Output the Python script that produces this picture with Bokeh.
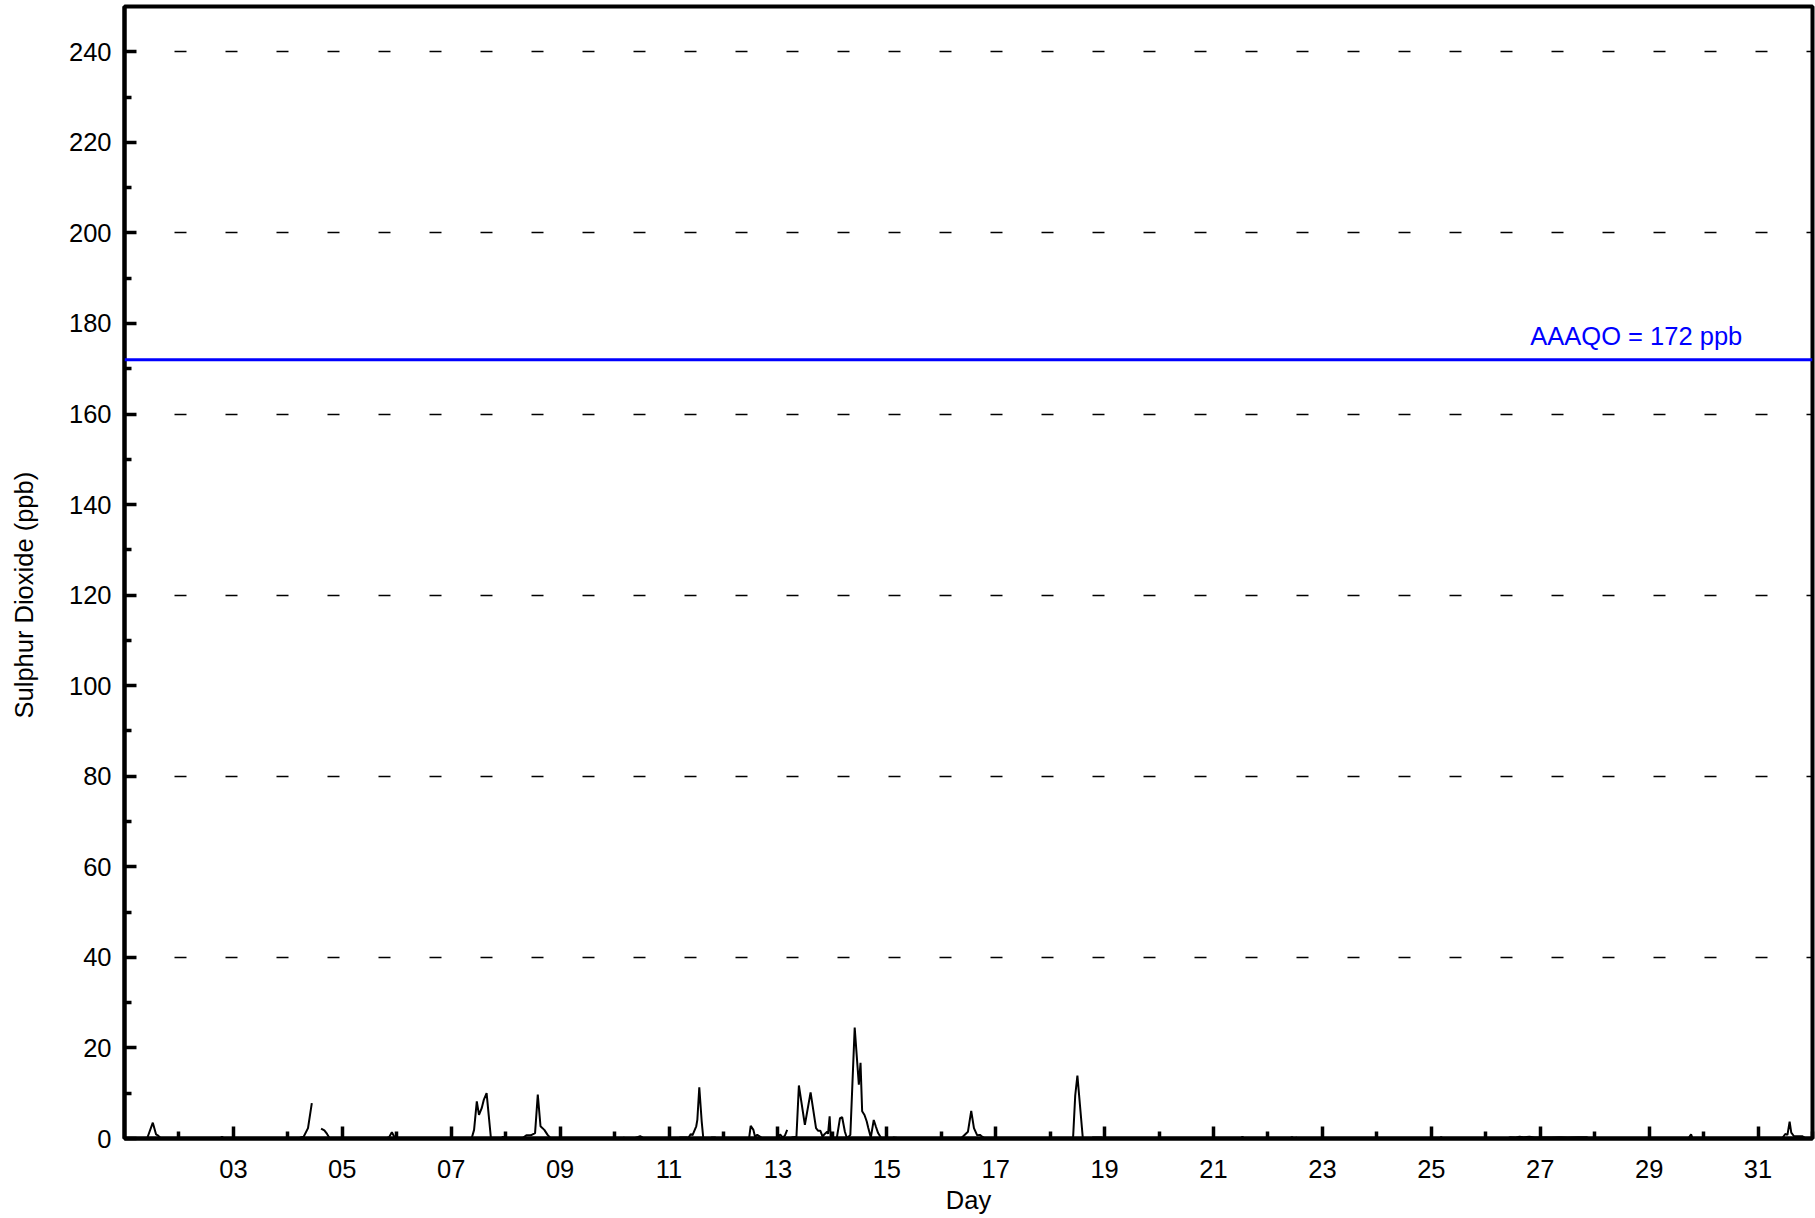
import math
from bokeh.plotting import figure
from bokeh.models import FixedTicker, Span, Label, Range1d
from bokeh.embed import file_html
from bokeh.resources import INLINE

NaN = float("nan")

# Hourly SO2 readings (day of month as fractional day), breakpoints
day = [1.00, 1.415, 1.52, 1.58, 1.61, 1.67,
       2.76, 2.79, 2.83,
       4.20, 4.25, 4.29, 4.37, 4.44, 4.52, 4.61, 4.67, 4.72, 4.77,
       5.80, 5.86, 5.91, 5.95, 6.00,
       7.35, 7.38, 7.42, 7.47, 7.51, 7.56, 7.60, 7.65, 7.69, 7.73,
       7.92, 7.95, 7.98,
       8.30, 8.38, 8.46, 8.54, 8.59, 8.64, 8.71, 8.77, 8.83,
       10.15, 10.17, 10.19, 10.35, 10.42, 10.47, 10.52, 10.56,
       11.18, 11.20, 11.33, 11.354, 11.40, 11.43, 11.50, 11.52, 11.556, 11.60, 11.63,
       11.75, 11.78, 11.85, 11.88,
       12.47, 12.50, 12.55, 12.58, 12.62, 12.67, 12.72,
       13.00, 13.04, 13.09, 13.13, 13.17, 13.21, 13.25, 13.34, 13.385, 13.495, 13.60,
       13.70, 13.74, 13.78, 13.82, 13.86, 13.905, 13.92, 13.95, 13.97,
       14.08, 14.14, 14.18, 14.23, 14.27, 14.33, 14.41, 14.486, 14.517, 14.547, 14.59,
       14.63, 14.66, 14.706, 14.76, 14.80, 14.84, 14.89, 14.93,
       15.08, 15.12, 15.20, 15.25,
       16.25, 16.37, 16.49, 16.55, 16.60, 16.66, 16.71, 16.75, 16.81,
       18.42, 18.46, 18.50, 18.60,
       18.76, 18.78, 18.94, 18.96,
       21.50, 21.53, 21.57,
       22.40, 22.44, 22.48, 22.52, 22.55,
       25.15, 25.18, 25.22,
       26.40, 26.45, 26.55, 26.62, 26.70, 26.80, 26.90, 27.20, 27.35, 27.50, 27.70, 27.85, 27.90,
       29.72, 29.77, 29.80,
       31.44, 31.50, 31.54, 31.58, 31.61, 31.66, 31.81, 31.87, 32.00]

so2 = [0.0, 0.0, 3.5, 0.9, 0.7, 0.0,
       0.0, 0.4, 0.0,
       0.0, 0.3, 0.4, 2.3, 7.8, NaN, 2.2, 1.8, 1.0, 0.0,
       0.0, 0.3, 1.4, 0.5, 0.0,
       0.0, 0.2, 1.9, 8.2, 5.2, 6.7, 8.6, 10.0, 5.0, 0.0,
       0.0, 0.4, 0.0,
       0.0, 0.7, 0.7, 1.2, 9.7, 2.7, 1.9, 0.8, 0.0,
       0.0, 0.2, 0.0, 0.0, 0.3, 0.5, 0.2, 0.0,
       0.0, 0.2, 0.2, 0.1, 1.0, 0.7, 2.7, 4.1, 11.3, 3.8, 0.0,
       0.0, 0.2, 0.2, 0.0,
       0.0, 2.8, 1.9, 0.4, 0.8, 0.4, 0.0,
       0.0, 0.9, 0.2, 0.7, 1.9, NaN, 0.2, 0.4, 11.7, 3.0, 10.2,
       2.3, 1.7, 1.7, 0.4, 1.0, 1.5, 1.0, 4.9, 0.0,
       0.0, 4.5, 4.7, 1.5, 0.0, 0.8, 24.5, 11.9, 16.7, 6.0, 5.2,
       3.8, 2.3, 0.2, 4.1, 2.6, 1.2, 0.2, 0.0,
       0.0, 0.2, 0.1, 0.0,
       0.0, 0.1, 1.5, 6.1, 2.3, 0.7, 0.8, 0.4, 0.0,
       0.0, 9.5, 13.9, 0.0,
       0.0, 0.2, 0.2, 0.0,
       0.0, 0.4, 0.0,
       0.0, 0.3, 0.0, 0.2, 0.0,
       0.0, 0.3, 0.0,
       0.0, 0.3, 0.2, 0.4, 0.3, 0.4, 0.2, 0.2, 0.3, 0.2, 0.3, 0.3, 0.0,
       0.0, 0.9, 0.0,
       0.0, 1.0, 0.8, 3.7, 1.3, 0.5, 0.5, 0.1, 0.0]

x_major_days = [3, 5, 7, 9, 11, 13, 15, 17, 19, 21, 23, 25, 27, 29, 31]
x_major_labels = ["03", "05", "07", "09", "11", "13", "15", "17", "19", "21", "23", "25", "27", "29", "31"]
x_minor_days = [2, 4, 6, 8, 10, 12, 14, 16, 18, 20, 22, 24, 26, 28, 30, 32]
y_major = [0, 20, 40, 60, 80, 100, 120, 140, 160, 180, 200, 220, 240]
y_minor = [10, 30, 50, 70, 90, 110, 130, 150, 170, 190, 210, 230]
grid_levels = [40, 80, 120, 160, 200, 240]
aaaqo = 172
aaaqo_text = "AAAQO = 172 ppb"
y_title = "Sulphur Dioxide (ppb)"
x_title = "Day"

FONT = "Liberation Sans"
FS = "25.5px"

p = figure(width=1815, height=1218,
           x_range=Range1d(1, 32), y_range=Range1d(0, 250),
           output_backend="svg", toolbar_location=None,
           min_border_left=124, min_border_right=3, min_border_top=6, min_border_bottom=80)
p.background_fill_color = "white"
p.border_fill_color = "white"
p.outline_line_color = "black"
p.outline_line_width = 4

# axes
for ax in (p.xaxis[0], p.yaxis[0]):
    ax.axis_line_width = 4
    ax.axis_line_color = "black"
    ax.major_tick_line_width = 3.5
    ax.minor_tick_line_width = 3.5
    ax.major_tick_line_color = "black"
    ax.minor_tick_line_color = "black"
    ax.major_tick_in = 12
    ax.major_tick_out = 0
    ax.minor_tick_in = 7
    ax.minor_tick_out = 0
    ax.major_label_text_font = FONT
    ax.major_label_text_font_size = FS
    ax.major_label_text_color = "black"
    ax.axis_label_text_font = FONT
    ax.axis_label_text_font_size = FS
    ax.axis_label_text_font_style = "normal"
    ax.axis_label_text_color = "black"

p.xaxis.ticker = FixedTicker(ticks=x_major_days, minor_ticks=x_minor_days)
p.xaxis.major_label_overrides = {d: s for d, s in zip(x_major_days, x_major_labels)}
p.xaxis.major_label_standoff = 21
p.xaxis.axis_label = x_title
p.xaxis.axis_label_standoff = 5

p.yaxis.ticker = FixedTicker(ticks=y_major, minor_ticks=y_minor)
p.yaxis.major_label_standoff = 13

# grid
p.xgrid.visible = False
p.ygrid.ticker = FixedTicker(ticks=grid_levels)
p.ygrid.grid_line_color = "black"
p.ygrid.grid_line_width = 1.5
p.ygrid.grid_line_dash = "12 39"
p.ygrid.grid_line_dash_offset = 1

# data
p.line(day, so2, line_color="black", line_width=2)

# objective line
p.add_layout(Span(location=aaaqo, dimension="width", line_color="#0000FF", line_width=3))
p.add_layout(Label(x=30.71, y=aaaqo + 5.2, text=aaaqo_text,
                   text_align="right", text_baseline="alphabetic",
                   text_font=FONT, text_font_size=FS, text_color="#0000FF"))

# y-axis title, placed in the left side panel and centred on the labelled 0-240 span
p.add_layout(Label(x=-0.85, y=(y_major[0] + y_major[-1]) / 2, text=y_title, angle=math.pi / 2,
                   text_align="center", text_baseline="middle",
                   text_font=FONT, text_font_size=FS, text_color="black"), "left")

open("out.html", "w").write(file_html(p, INLINE))
